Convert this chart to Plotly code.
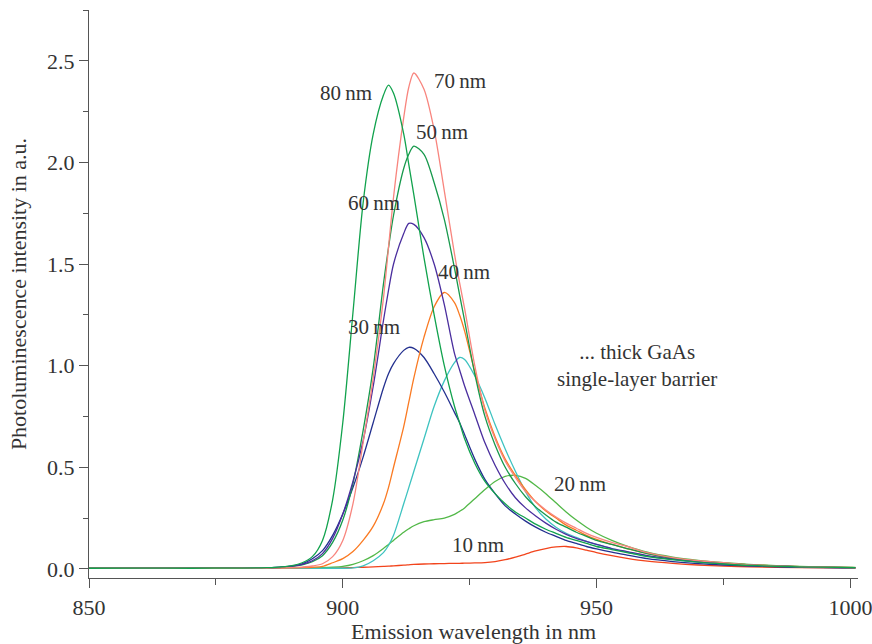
import plotly.graph_objects as go

wavelength = [850, 860, 870, 880, 885, 888, 890, 892, 894, 896, 898, 900, 902, 904, 906, 908, 909, 910,
              912, 913, 914, 916, 918, 920, 922, 923, 924, 926, 928, 930, 932, 934, 936, 938, 940, 942,
              944, 946, 948, 950, 953, 956, 960, 965, 970, 975, 980, 990, 1001]

pl_80nm = [0.003, 0.004, 0.003, 0.004, 0.006, 0.010, 0.016, 0.030, 0.06, 0.14, 0.34, 0.72, 1.26, 1.80, 2.14, 2.33, 2.38, 2.34,
           2.14, 1.99, 1.84, 1.53, 1.25, 1.00, 0.80, 0.72, 0.64, 0.52, 0.43, 0.37, 0.32, 0.28, 0.25, 0.22, 0.195, 0.175,
           0.155, 0.14, 0.125, 0.11, 0.095, 0.08, 0.06, 0.045, 0.033, 0.024, 0.017, 0.010, 0.006]
pl_70nm = [0.003, 0.004, 0.003, 0.003, 0.004, 0.005, 0.006, 0.009, 0.014, 0.025, 0.06, 0.14, 0.32, 0.62, 0.94, 1.33, 1.58, 1.83,
           2.22, 2.37, 2.44, 2.36, 2.16, 1.86, 1.55, 1.41, 1.28, 1.00, 0.78, 0.64, 0.53, 0.45, 0.38, 0.33, 0.29, 0.255,
           0.225, 0.20, 0.175, 0.155, 0.13, 0.11, 0.08, 0.055, 0.04, 0.03, 0.02, 0.011, 0.006]
pl_60nm = [0.003, 0.003, 0.003, 0.003, 0.005, 0.008, 0.013, 0.022, 0.04, 0.075, 0.15, 0.27, 0.43, 0.63, 0.90, 1.22, 1.37, 1.50,
           1.65, 1.70, 1.695, 1.63, 1.50, 1.30, 1.06, 0.98, 0.90, 0.76, 0.62, 0.51, 0.42, 0.35, 0.30, 0.26, 0.225, 0.195,
           0.17, 0.15, 0.135, 0.12, 0.10, 0.085, 0.065, 0.048, 0.035, 0.026, 0.018, 0.010, 0.006]
pl_50nm = [0.003, 0.003, 0.003, 0.003, 0.005, 0.008, 0.012, 0.020, 0.035, 0.065, 0.13, 0.24, 0.42, 0.68, 0.99, 1.40, 1.58, 1.74,
           1.97, 2.04, 2.08, 2.04, 1.90, 1.72, 1.48, 1.35, 1.22, 0.96, 0.75, 0.61, 0.50, 0.42, 0.355, 0.305, 0.265, 0.23,
           0.205, 0.18, 0.16, 0.14, 0.12, 0.10, 0.075, 0.052, 0.038, 0.028, 0.020, 0.011, 0.006]
pl_40nm = [0.003, 0.003, 0.003, 0.003, 0.003, 0.004, 0.005, 0.006, 0.008, 0.012, 0.03, 0.05, 0.085, 0.14, 0.21, 0.32, 0.40, 0.50,
           0.70, 0.82, 0.94, 1.14, 1.29, 1.36, 1.31, 1.25, 1.17, 0.97, 0.79, 0.65, 0.54, 0.46, 0.39, 0.33, 0.285, 0.25,
           0.215, 0.19, 0.165, 0.145, 0.12, 0.10, 0.075, 0.053, 0.038, 0.028, 0.020, 0.011, 0.006]
pl_30nm = [0.003, 0.003, 0.003, 0.003, 0.005, 0.008, 0.013, 0.025, 0.05, 0.09, 0.165, 0.27, 0.40, 0.55, 0.72, 0.89, 0.96, 1.01,
           1.075, 1.09, 1.085, 1.04, 0.96, 0.87, 0.77, 0.72, 0.66, 0.54, 0.44, 0.37, 0.31, 0.27, 0.235, 0.205, 0.18, 0.16,
           0.14, 0.125, 0.11, 0.098, 0.082, 0.068, 0.05, 0.036, 0.026, 0.019, 0.014, 0.008, 0.005]
pl_25nm = [0.003, 0.003, 0.003, 0.003, 0.003, 0.003, 0.003, 0.003, 0.003, 0.003, 0.003, 0.003, 0.005, 0.015, 0.04, 0.08, 0.115, 0.165,
           0.32, 0.40, 0.48, 0.64, 0.80, 0.925, 1.015, 1.04, 1.03, 0.95, 0.84, 0.71, 0.59, 0.48, 0.38, 0.30, 0.245, 0.205,
           0.175, 0.155, 0.135, 0.12, 0.10, 0.083, 0.063, 0.046, 0.034, 0.025, 0.018, 0.010, 0.006]
pl_20nm = [0.003, 0.003, 0.003, 0.003, 0.003, 0.003, 0.003, 0.004, 0.005, 0.006, 0.008, 0.012, 0.022, 0.04, 0.065, 0.10, 0.12, 0.14,
           0.18, 0.197, 0.212, 0.232, 0.242, 0.25, 0.268, 0.283, 0.30, 0.345, 0.39, 0.43, 0.455, 0.46, 0.445, 0.41, 0.37, 0.325,
           0.28, 0.24, 0.205, 0.175, 0.14, 0.112, 0.082, 0.058, 0.042, 0.030, 0.022, 0.012, 0.007]
pl_10nm = [0.003, 0.003, 0.003, 0.003, 0.003, 0.003, 0.003, 0.003, 0.004, 0.004, 0.005, 0.005, 0.006, 0.008, 0.010, 0.012, 0.013, 0.015,
           0.018, 0.020, 0.022, 0.024, 0.025, 0.026, 0.027, 0.027, 0.028, 0.029, 0.031, 0.036, 0.045, 0.058, 0.073, 0.088, 0.10, 0.108,
           0.11, 0.103, 0.092, 0.08, 0.065, 0.052, 0.038, 0.027, 0.019, 0.014, 0.010, 0.006, 0.004]

series = [
    ("10 nm", pl_10nm, "#f2441c"),
    ("20 nm", pl_20nm, "#52b848"),
    ("25 nm", pl_25nm, "#3ec3c0"),
    ("30 nm", pl_30nm, "#23308f"),
    ("40 nm", pl_40nm, "#fa7a22"),
    ("50 nm", pl_50nm, "#17994c"),
    ("60 nm", pl_60nm, "#4a2e9e"),
    ("70 nm", pl_70nm, "#f8857e"),
    ("80 nm", pl_80nm, "#11a24d"),
]

labels = ["80\u2009nm", "70\u2009nm", "50\u2009nm", "60\u2009nm", "40\u2009nm", "30\u2009nm", "20\u2009nm", "10\u2009nm"]
label_x = [900.6, 923.0, 919.5, 906.1, 923.8, 906.1, 946.7, 926.6]
label_y = [2.34, 2.40, 2.15, 1.80, 1.46, 1.19, 0.42, 0.118]

note_text = "... thick GaAs<br>single-layer barrier"
note_x, note_y = 957.9, 1.0

FONT = "Liberation Serif"
TXT = "#333333"
AX = "#555555"

fig = go.Figure()
for name, vals, col in series:
    fig.add_trace(go.Scatter(x=wavelength, y=vals, mode="lines", name=name,
                             line=dict(color=col, width=1.3, shape="spline", smoothing=0.8),
                             showlegend=False))

for t, x, y in zip(labels, label_x, label_y):
    fig.add_annotation(x=x, y=y, text=t, showarrow=False, font=dict(family=FONT, size=21, color=TXT))
fig.add_annotation(x=note_x, y=note_y, text=note_text, showarrow=False,
                   font=dict(family=FONT, size=21, color=TXT))

fig.update_layout(
    width=872, height=644,
    margin=dict(l=89, r=14, t=10, b=66),
    paper_bgcolor="white", plot_bgcolor="white",
    font=dict(family=FONT, size=22, color=TXT),
    xaxis=dict(range=[850, 1001.5], tickvals=[850, 900, 950, 1000], showgrid=False, zeroline=False,
               showline=True, linecolor=AX, linewidth=1.2, ticks="outside", ticklen=9, tickwidth=1.2,
               tickcolor=AX, minor=dict(tickvals=[875, 925, 975], ticks="outside", ticklen=6, tickcolor=AX, tickwidth=1.2),
               title=dict(text="Emission wavelength in nm", standoff=10, font=dict(family=FONT, size=22, color=TXT)),
               tickfont=dict(family=FONT, size=22, color=TXT), automargin=False, ticklabeloverflow="allow"),
    yaxis=dict(range=[-0.045, 2.75], dtick=0.5, tick0=0, tickformat=".1f", showgrid=False, zeroline=False,
               showline=True, linecolor=AX, linewidth=1.2, ticks="outside", ticklen=9, tickwidth=1.2,
               tickcolor=AX, minor=dict(dtick=0.25, tick0=0, ticks="outside", ticklen=5, tickcolor=AX, tickwidth=1.2),
               title=dict(text="Photoluminescence intensity in a.u.", standoff=14, font=dict(family=FONT, size=22, color=TXT)),
               tickfont=dict(family=FONT, size=22, color=TXT), automargin=False),
)

fig.write_html("out.html")
